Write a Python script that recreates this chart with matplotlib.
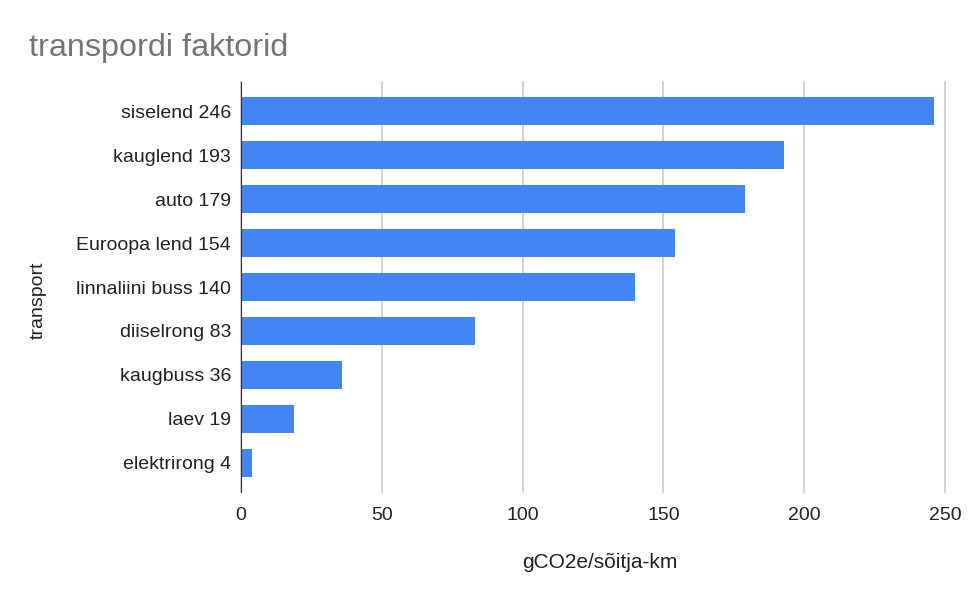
import numpy as np
import matplotlib.pyplot as plt

plt.rcParams['font.family'] = ['Liberation Sans', 'DejaVu Sans']

labels = ['siselend 246', 'kauglend 193', 'auto 179', 'Euroopa lend 154',
          'linnaliini buss 140', 'diiselrong 83', 'kaugbuss 36', 'laev 19',
          'elektrirong 4']
values = [246, 193, 179, 154, 140, 83, 36, 19, 4]
xticks = [0, 50, 100, 150, 200, 250]

fig = plt.figure(figsize=(9.74, 6.0), dpi=100)
ax = fig.add_axes([0.2474, 0.18, 0.7228, 0.6833])

y = np.arange(len(labels))
ax.barh(y, values, height=0.64, color='#4285F4', zorder=3)

ax.set_ylim(8.66, -0.66)
ax.set_xlim(0, 250)
ax.set_yticks(y)
ax.set_yticklabels(labels, fontsize=14, color='#222222')
ax.set_xticks(xticks)
ax.set_xticklabels([str(t) for t in xticks], fontsize=14, color='#222222')
ax.tick_params(length=0)
ax.tick_params(axis='y', pad=7)
ax.tick_params(axis='x', pad=11)

ax.grid(axis='x', color='#cccccc', linewidth=1.2, zorder=0, clip_on=False)
for s in ['top', 'right', 'bottom']:
    ax.spines[s].set_visible(False)
ax.spines['left'].set_color('#333333')
ax.spines['left'].set_zorder(4)

ax.set_xlabel('gCO2e/sõitja-km', fontsize=15, color='#222222')
ax.xaxis.set_label_coords(0.51, -0.15)
fig.text(0.039, 0.5, 'transport', rotation=90, fontsize=14, color='#222222',
         ha='center', va='center')
fig.text(0.030, 0.92, 'transpordi faktorid', fontsize=23.3, color='#757575',
         ha='left', va='center')

fig.savefig('out.png', dpi=100)
